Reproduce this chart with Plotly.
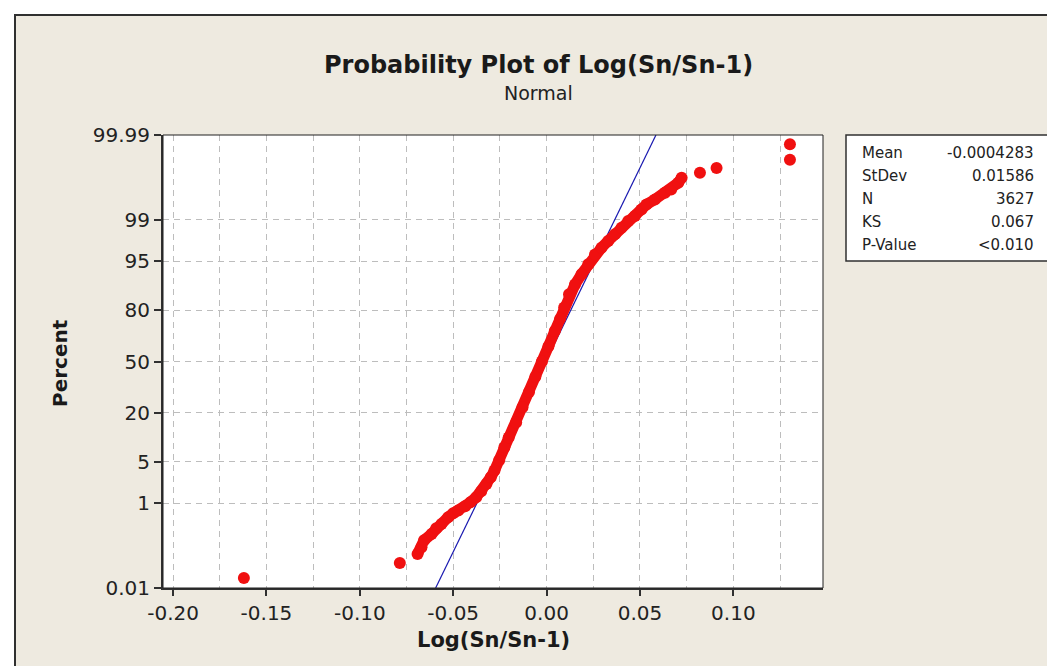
import plotly.graph_objects as go
from statistics import NormalDist

# ---------------- data ----------------
# isolated tail points: (observed value, plotted percent)
low_tail_x = [-0.1621, -0.0786]
low_tail_pct = [0.019, 0.047]
high_tail_x = [0.0821, 0.0910, 0.1303, 0.1303]
high_tail_pct = [99.903, 99.926, 99.954, 99.982]

# dense body of the plot: observed value vs percent, read along the band
body_x = [-0.0691, -0.0670, -0.0656, -0.0616, -0.0591, -0.0563, -0.0527, -0.0500,
          -0.0473, -0.0436, -0.0408, -0.0377, -0.0350, -0.0322, -0.0299, -0.0279,
          -0.0254, -0.0226, -0.0203, -0.0163, -0.0129, -0.0094, -0.0060, -0.0025,
          0.0010, 0.0044, 0.0072, 0.0094, 0.0120, 0.0152, 0.0187, 0.0223,
          0.0259, 0.0294, 0.0330, 0.0366, 0.0401, 0.0437, 0.0473, 0.0508,
          0.0535, 0.0580, 0.0634, 0.0667, 0.0705, 0.0723]
body_pct = [0.079, 0.115, 0.167, 0.232, 0.309, 0.383, 0.528, 0.635,
            0.718, 0.873, 1.04, 1.29, 1.65, 2.22, 2.86, 3.66,
            5.23, 7.93, 10.64, 15.87, 22.66, 30.85, 40.13, 50.0,
            59.87, 69.15, 75.80, 81.2, 86.5, 89.7, 92.4, 94.5,
            96.07, 96.92, 97.61, 98.16, 98.60, 98.95, 99.155, 99.374,
            99.505, 99.610, 99.720, 99.764, 99.833, 99.872]

# fitted normal distribution / statistics table
mean = -0.0004283
stdev = 0.01586
stat_labels = ["Mean", "StDev", "N", "KS", "P-Value"]
stat_values = ["-0.0004283", "0.01586", "3627", "0.067", "<0.010"]

# axis ticks
x_tick_vals = [-0.20, -0.15, -0.10, -0.05, 0.00, 0.05, 0.10]
x_tick_text = ["-0.20", "-0.15", "-0.10", "-0.05", "0.00", "0.05", "0.10"]
x_minor_vals = [-0.175, -0.125, -0.075, -0.025, 0.025, 0.075, 0.125]
y_tick_pct = [0.01, 1, 5, 20, 50, 80, 95, 99, 99.99]
y_tick_text = ["0.01", "1", "5", "20", "50", "80", "95", "99", "99.99"]

# ---------------- probability scale ----------------
nd = NormalDist()
def z(p):
    return nd.inv_cdf(p / 100.0)

y_lo, y_hi = z(0.01), z(99.99)

FONT = "DejaVu Sans"
RED = "#F01010"

fig = go.Figure()

# fitted line
fit_z = [y_lo, y_hi]
fig.add_trace(go.Scatter(x=[mean + stdev * v for v in fit_z], y=fit_z, mode="lines",
                         line=dict(color="#1818B0", width=1.2), hoverinfo="skip"))
# dense band
fig.add_trace(go.Scatter(x=body_x, y=[z(p) for p in body_pct], mode="lines+markers",
                         line=dict(color=RED, width=11),
                         marker=dict(color=RED, size=12)))
# tails
fig.add_trace(go.Scatter(x=low_tail_x + high_tail_x,
                         y=[z(p) for p in low_tail_pct + high_tail_pct],
                         mode="markers", marker=dict(color=RED, size=12)))

# ---------------- layout ----------------
L, T, W, H = 155, 127, 660, 453
def px(xp):
    return (xp - L) / W
def py(yp):
    return (T + H - yp) / H

shapes = [
    dict(type="rect", xref="paper", yref="paper", x0=px(7), x1=px(1051), y0=py(680), y1=py(7),
         fillcolor="#EEEAE0", line=dict(color="#303030", width=2), layer="below"),
    dict(type="rect", xref="paper", yref="paper", x0=0, x1=1, y0=0, y1=1,
         fillcolor="white", line=dict(width=0), layer="below"),
    dict(type="rect", xref="paper", yref="paper", x0=0, x1=1, y0=0, y1=1,
         fillcolor="rgba(0,0,0,0)", line=dict(color="#202020", width=1), layer="above"),
    dict(type="rect", xref="paper", yref="paper", x0=px(838), x1=px(1044), y0=py(253), y1=py(127),
         fillcolor="white", line=dict(color="#303030", width=1.5), layer="below"),
]

annotations = [
    dict(text="<b>Probability Plot of Log(Sn/Sn-1)</b>", xref="paper", yref="paper",
         x=px(530), y=py(57), showarrow=False, xanchor="center", yanchor="middle",
         font=dict(family=FONT, size=24, color="#1a1a1a")),
    dict(text="Normal", xref="paper", yref="paper", x=px(530), y=py(85), showarrow=False,
         xanchor="center", yanchor="middle", font=dict(family=FONT, size=19, color="#222")),
    dict(text="<b>Log(Sn/Sn-1)</b>", xref="paper", yref="paper", x=px(485), y=py(632),
         showarrow=False, xanchor="center", yanchor="middle",
         font=dict(family=FONT, size=21, color="#1a1a1a")),
    dict(text="<b>Percent</b>", xref="paper", yref="paper", x=px(52), y=py(355), textangle=-90,
         showarrow=False, xanchor="center", yanchor="middle",
         font=dict(family=FONT, size=20, color="#1a1a1a")),
]
row_y = [145, 168, 191, 214, 237]
for lab, val, ry in zip(stat_labels, stat_values, row_y):
    annotations.append(dict(text=lab, xref="paper", yref="paper", x=px(852), y=py(ry),
                            showarrow=False, xanchor="left", yanchor="middle",
                            font=dict(family=FONT, size=15, color="#222")))
    annotations.append(dict(text=val, xref="paper", yref="paper", x=px(1028), y=py(ry),
                            showarrow=False, xanchor="right", yanchor="middle",
                            font=dict(family=FONT, size=15, color="#222")))

grid = dict(gridcolor="#BDBDBD", griddash="6px,5px", gridwidth=1)

fig.update_layout(
    width=1055, height=666, autosize=False,
    margin=dict(l=L, r=1055 - L - W, t=T, b=666 - T - H, pad=0),
    paper_bgcolor="white", plot_bgcolor="white",
    showlegend=False, shapes=shapes, annotations=annotations,
    font=dict(family=FONT, color="#222"),
    xaxis=dict(range=[-0.2054, 0.148], tickmode="array", tickvals=x_tick_vals,
               ticktext=x_tick_text, ticks="outside", ticklen=6, tickwidth=1.5,
               tickcolor="#303030", showline=True, linecolor="#303030", linewidth=2,
               zeroline=False, showgrid=True, tickfont=dict(family=FONT, size=20, color="#222"),
               minor=dict(tickmode="array", tickvals=x_minor_vals, showgrid=True, ticks="", **grid),
               **grid),
    yaxis=dict(range=[y_lo, y_hi], tickmode="array", tickvals=[z(p) for p in y_tick_pct],
               ticktext=y_tick_text, ticks="outside", ticklen=7, tickwidth=1.5,
               tickcolor="#303030", showline=True, linecolor="#303030", linewidth=2,
               zeroline=False, showgrid=True, tickfont=dict(family=FONT, size=20, color="#222"),
               **grid),
)

fig.write_html("out.html")
